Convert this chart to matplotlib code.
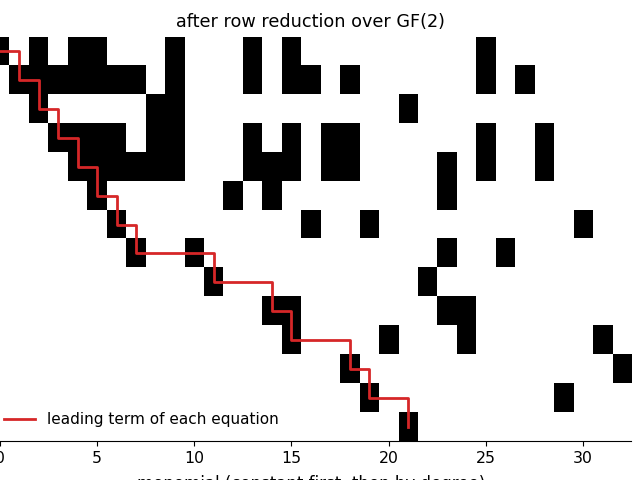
import numpy as np
import matplotlib
matplotlib.use("Agg")
import matplotlib.pyplot as plt

n_cols = 33

# nonzero columns of each row after reduction (row 0 at top)
row_terms = [
    [0, 2, 4, 5, 9, 13, 15, 25],
    [1, 2, 3, 4, 5, 6, 7, 9, 13, 15, 16, 18, 25, 27],
    [2, 8, 9, 21],
    [3, 4, 5, 6, 8, 9, 13, 15, 17, 18, 25, 28],
    [4, 5, 6, 7, 8, 9, 13, 14, 15, 17, 18, 23, 25, 28],
    [5, 12, 14, 23],
    [6, 16, 19, 30],
    [7, 10, 23, 26],
    [11, 22],
    [14, 15, 23, 24],
    [15, 20, 24, 31],
    [18, 32],
    [19, 29],
    [21],
]

# leading (pivot) column of each row
pivots = [0, 1, 2, 3, 4, 5, 6, 7, 11, 14, 15, 18, 19, 21]

M = np.zeros((len(row_terms), n_cols))
for r, cols in enumerate(row_terms):
    M[r, cols] = 1

fig = plt.figure(figsize=(6.4, 4.8), dpi=100)
# axes spills a little past the left edge, like the reference
ax = fig.add_axes([-0.0152, 0.0813, 1.0019, 0.8417])

ax.imshow(M, cmap="binary", interpolation="nearest", aspect="auto",
          extent=(-0.5, n_cols - 0.5, len(row_terms) - 0.5, -0.5))
ax.step(pivots, range(len(pivots)), where="post", color="#d62728", lw=2,
        label="leading term of each equation")

ax.set_xlim(-0.5, n_cols - 0.5)
ax.set_ylim(len(row_terms) - 0.5, -0.5)
ax.set_xticks([0, 5, 10, 15, 20, 25, 30])
ax.set_yticks([])
ax.tick_params(axis="x", labelsize=11.3)
for s in ["top", "right", "left"]:
    ax.spines[s].set_visible(False)

ax.set_title("after row reduction over GF(2)", fontsize=12.7, pad=7)
ax.set_xlabel("monomial (constant first, then by degree)", fontsize=12, labelpad=6.5)
ax.legend(loc="lower left", frameon=False, fontsize=11)

fig.savefig("out.png", dpi=100)
